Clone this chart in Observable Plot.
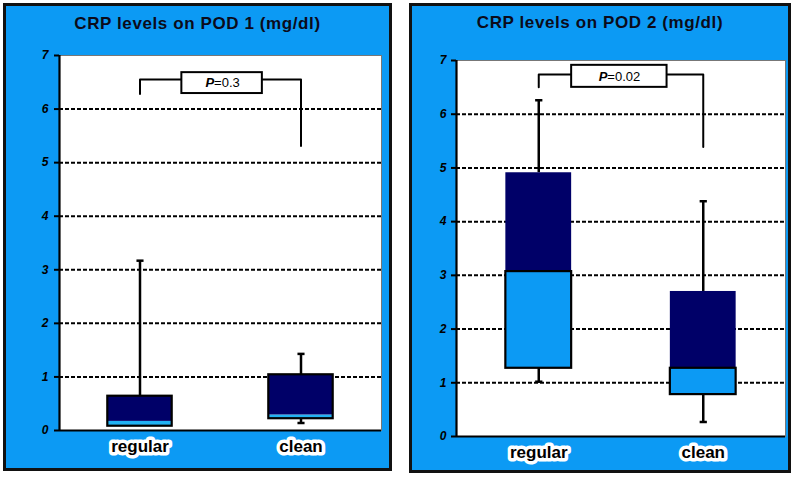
<!DOCTYPE html>
<html>
<head>
<meta charset="utf-8">
<script src="https://cdn.jsdelivr.net/npm/d3@7"></script>
<script src="https://cdn.jsdelivr.net/npm/@observablehq/plot@0.6"></script>
<style>
  html, body { margin: 0; padding: 0; background: #ffffff; }
  #root { position: relative; width: 797px; height: 478px; background: #ffffff; overflow: hidden; }
  .panel { position: absolute; box-sizing: border-box; border: 3px solid #111; background: #0C9AF4; }
  .panel .title { position: absolute; left: 0; width: 100%; text-align: center;
    font: bold 17px "Liberation Sans", Arial, sans-serif; line-height: 17px; letter-spacing: 0.6px; color: #0b0b1a; }
  .panel svg { position: absolute; left: 0; top: 0; }
</style>
</head>
<body>
<div id="root"></div>
<script>
// ---------- data ----------
const groups = ["regular", "clean"];
const yTicks = [0, 1, 2, 3, 4, 5, 6, 7];
const gridValues = [1, 2, 3, 4, 5, 6];

// POD 1
const pod1Low    = [0.08, 0.14];
const pod1Q1     = [0.08, 0.22];
const pod1Median = [0.17, 0.29];
const pod1Q3     = [0.64, 1.04];
const pod1High   = [3.17, 1.43];

// POD 2
const pod2Low    = [1.02, 0.27];
const pod2Q1     = [1.27, 0.78];
const pod2Median = [3.07, 1.27];
const pod2Q3     = [4.91, 2.70];
const pod2High   = [6.26, 4.38];

// significance brackets (y values) and p-values
const pValues          = ["0.3", "0.02"];
const bracketLeftFoot  = [6.28, 6.50];
const bracketTop       = [6.55, 6.74];
const bracketRightFoot = [5.31, 5.39];
const labelBoxLow      = [6.29, 6.50];
const labelBoxHigh     = [6.68, 6.91];
const labelBoxLeft     = [0.26, 0.20];
const labelBoxRight    = [0.76, 0.78];

const titles = ["CRP levels on POD 1 (mg/dl)", "CRP levels on POD 2 (mg/dl)"];

// ---------- drawing ----------
const FONT = '"Liberation Sans", Arial, sans-serif';
const DARK = "#000068";

function makeRows(low, q1, med, q3, high) {
  return groups.map((g, i) => ({g, i, low: low[i], q1: q1[i], med: med[i], q3: q3[i], high: high[i]}));
}

function panel(k, rows, layout) {
  const bracket = [
    {x: 0, y: bracketLeftFoot[k]},
    {x: 0, y: bracketTop[k]},
    {x: 1, y: bracketTop[k]},
    {x: 1, y: bracketRightFoot[k]}
  ];
  const box = [{x1: labelBoxLeft[k], x2: labelBoxRight[k], y1: labelBoxLow[k], y2: labelBoxHigh[k]}];
  const half = 0.2, cap = 0.022;
  const lowerWhiskers = rows.filter(d => d.low < d.q1);
  const outlineTop = layout.outlineFull ? "q3" : "med";

  return Plot.plot({
    width: layout.width,
    height: layout.height,
    marginLeft: layout.ml, marginRight: layout.mr, marginTop: layout.mt, marginBottom: layout.mb,
    x: {domain: [-0.5, 1.5], axis: null},
    y: {domain: [0, 7], axis: null},
    style: {background: "transparent", fontFamily: FONT, overflow: "visible", color: "black"},
    marks: [
      Plot.frame({fill: "white", stroke: "#777", strokeWidth: 1}),
      Plot.ruleY(gridValues, {stroke: "black", strokeWidth: 2, strokeDasharray: "4,2"}),
      // whiskers
      Plot.ruleX(rows, {x: "i", y1: "q3", y2: "high", stroke: "black", strokeWidth: 2.5}),
      Plot.ruleX(lowerWhiskers, {x: "i", y1: "low", y2: "q1", stroke: "black", strokeWidth: 2.5}),
      Plot.link(rows, {x1: d => d.i - cap, x2: d => d.i + cap, y1: "high", y2: "high", stroke: "black", strokeWidth: 2.5}),
      Plot.link(lowerWhiskers, {x1: d => d.i - cap, x2: d => d.i + cap, y1: "low", y2: "low", stroke: "black", strokeWidth: 2.5}),
      // boxes
      Plot.rect(rows, {x1: d => d.i - half, x2: d => d.i + half, y1: "q1", y2: "med", fill: layout.light}),
      Plot.rect(rows, {x1: d => d.i - half, x2: d => d.i + half, y1: "med", y2: "q3", fill: DARK}),
      Plot.rect(rows, {x1: d => d.i - half, x2: d => d.i + half, y1: "q1", y2: outlineTop, fill: "none", stroke: "black", strokeWidth: 2.2}),
      // axis lines
      Plot.ruleX([-0.5], {stroke: "black", strokeWidth: 2.2}),
      Plot.ruleY([0], {stroke: "black", strokeWidth: 2.2}),
      Plot.axisY(yTicks, {tickSize: 5, tickPadding: layout.tp, tickFormat: d => String(d), fontSize: 12, fontWeight: "bold", fontStyle: "italic",
        strokeWidth: 2, stroke: "black", fill: "black", label: null}),
      // significance bracket
      Plot.line(bracket, {x: "x", y: "y", stroke: "black", strokeWidth: 2, curve: "linear"}),
      Plot.rect(box, {x1: "x1", x2: "x2", y1: "y1", y2: "y2", fill: "white", stroke: "black", strokeWidth: 2}),
      Plot.text(box, {x: d => (d.x1 + d.x2) / 2, y: d => (d.y1 + d.y2) / 2, text: () => "P",
        textAnchor: "end", dx: layout.pdx, fontSize: 13, fontStyle: "italic", fontWeight: "bold", fill: "black"}),
      Plot.text(box, {x: d => (d.x1 + d.x2) / 2, y: d => (d.y1 + d.y2) / 2, text: () => "=" + pValues[k],
        textAnchor: "start", dx: layout.pdx, fontSize: 13, fill: "black"}),
      // category labels
      Plot.text(rows, {x: "i", text: "g", frameAnchor: "bottom", dy: 21, fontSize: 17, fontWeight: "bold",
        fill: "black", stroke: "white", strokeWidth: 7, strokeLinejoin: "round"})
    ]
  });
}

const root = document.getElementById("root");
const panels = [
  {left: 3, top: 3, w: 389, h: 468, titleTop: 9,
   rows: makeRows(pod1Low, pod1Q1, pod1Median, pod1Q3, pod1High),
   layout: {width: 383, height: 462, ml: 53, mr: 8, mt: 49, mb: 38, tp: 6, light: "#22B2F4", outlineFull: true, pdx: -8}},
  {left: 409, top: 3, w: 382, h: 470, titleTop: 7.5,
   rows: makeRows(pod2Low, pod2Q1, pod2Median, pod2Q3, pod2High),
   layout: {width: 376, height: 464, ml: 44, mr: 3, mt: 54, mb: 34, tp: 5, light: "#0C9AF4", outlineFull: false, pdx: -12}}
];

panels.forEach((p, k) => {
  const div = document.createElement("div");
  div.className = "panel";
  Object.assign(div.style, {left: p.left + "px", top: p.top + "px", width: p.w + "px", height: p.h + "px"});
  const svg = panel(k, p.rows, p.layout);
  div.appendChild(svg);
  const t = document.createElement("div");
  t.className = "title";
  t.style.top = p.titleTop + "px";
  t.textContent = titles[k];
  div.appendChild(t);
  root.appendChild(div);
});
</script>
</body>
</html>
